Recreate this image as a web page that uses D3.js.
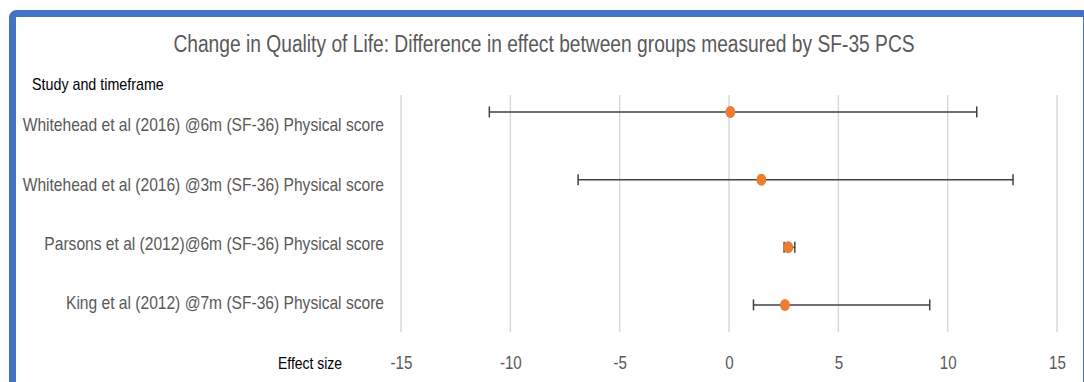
<!DOCTYPE html>
<html>
<head>
<meta charset="utf-8">
<script src="https://cdn.jsdelivr.net/npm/d3@7"></script>
<style>
  html, body { margin: 0; padding: 0; background: #ffffff; }
  svg { display: block; font-family: "Liberation Sans", Arial, sans-serif; }
</style>
</head>
<body>
<svg id="chart" width="1084" height="382"></svg>
<script>
// Studies, top to bottom
const studies = [
  "Whitehead et al (2016) @6m (SF-36) Physical score",
  "Whitehead et al (2016) @3m (SF-36) Physical score",
  "Parsons et al (2012)@6m (SF-36) Physical score",
  "King et al (2012) @7m (SF-36) Physical score"
];
// Difference in effect and its interval
const effect = [0.06, 1.48, 2.71, 2.56];
const lower  = [-10.96, -6.90, 2.52, 1.12];
const upper  = [11.33, 12.99, 3.01, 9.18];
// Vertical value of each point on the hidden y axis (0 to 3.5)
const rowY = [3.25, 2.25, 1.25, 0.4];
// Effect size axis ticks
const xTicks = [-15, -10, -5, 0, 5, 10, 15];

const svg = d3.select("#chart");

// Squeeze text horizontally to a narrower face
function condense(sel, k) {
  sel.each(function () {
    const w = this.getComputedTextLength();
    d3.select(this).attr("textLength", w * k).attr("lengthAdjust", "spacingAndGlyphs");
  });
}

// Chart frame
svg.append("rect")
  .attr("x", 12.5).attr("y", 13.5)
  .attr("width", 1074).attr("height", 420)
  .attr("rx", 4)
  .attr("fill", "#ffffff")
  .attr("stroke", "#4472C4")
  .attr("stroke-width", 7);

const plotTop = 95, plotBottom = 332;
const x = d3.scaleLinear().domain([-15, 15]).range([401, 1057]);
const yBand = d3.scaleBand().domain(studies).range([plotTop, plotBottom]);
const y = d3.scaleLinear().domain([0, 3.5]).range([plotBottom, plotTop]);

// Title
svg.append("text")
  .attr("x", 544).attr("y", 52)
  .attr("text-anchor", "middle")
  .attr("fill", "#595959")
  .attr("font-size", 23)
  .text("Change in Quality of Life: Difference in effect between groups measured by SF-35 PCS")
  .call(condense, 0.835);

// Axis titles
svg.append("text")
  .attr("x", 32).attr("y", 90)
  .attr("fill", "#000000")
  .attr("font-size", 17)
  .text("Study and timeframe")
  .call(condense, 0.84);

svg.append("text")
  .attr("x", 278).attr("y", 369)
  .attr("fill", "#000000")
  .attr("font-size", 17)
  .text("Effect size")
  .call(condense, 0.82);

// Vertical gridlines
svg.append("g")
  .selectAll("line")
  .data(xTicks)
  .join("line")
  .attr("x1", d => x(d)).attr("x2", d => x(d))
  .attr("y1", plotTop).attr("y2", plotBottom)
  .attr("stroke", "#d9d9d9")
  .attr("stroke-width", 1.5);

// X axis tick labels
const xAxis = svg.append("g")
  .attr("transform", `translate(0,${plotBottom})`)
  .call(d3.axisBottom(x).tickValues(xTicks).tickSize(0).tickPadding(0).tickFormat(d => String(d)));
xAxis.select(".domain").remove();
xAxis.selectAll("text")
  .attr("dy", null)
  .attr("y", 37)
  .attr("fill", "#595959")
  .attr("font-size", 18)
  .attr("font-family", "Liberation Sans, Arial, sans-serif")
  .call(condense, 0.84);

// Category labels
const yAxis = svg.append("g")
  .attr("transform", "translate(384,0)")
  .call(d3.axisLeft(yBand).tickSize(0).tickPadding(0));
yAxis.select(".domain").remove();
yAxis.selectAll("text")
  .attr("x", 0)
  .attr("dy", "0.35em")
  .attr("fill", "#595959")
  .attr("font-size", 19)
  .attr("font-family", "Liberation Sans, Arial, sans-serif")
  .call(condense, 0.82);

// Error bars
const rows = studies.map((s, i) => ({ s, v: effect[i], lo: lower[i], hi: upper[i], ry: rowY[i] }));
const bars = svg.append("g").attr("stroke", "#404040").attr("stroke-width", 1.5).attr("fill", "none");
bars.selectAll("line.span")
  .data(rows).join("line").attr("class", "span")
  .attr("x1", d => x(d.lo)).attr("x2", d => x(d.hi))
  .attr("y1", d => y(d.ry)).attr("y2", d => y(d.ry));
bars.selectAll("line.capLo")
  .data(rows).join("line").attr("class", "capLo")
  .attr("x1", d => x(d.lo)).attr("x2", d => x(d.lo))
  .attr("y1", d => y(d.ry) - 5.5).attr("y2", d => y(d.ry) + 5.5);
bars.selectAll("line.capHi")
  .data(rows).join("line").attr("class", "capHi")
  .attr("x1", d => x(d.hi)).attr("x2", d => x(d.hi))
  .attr("y1", d => y(d.ry) - 5.5).attr("y2", d => y(d.ry) + 5.5);

// Points
svg.append("g")
  .selectAll("ellipse")
  .data(rows)
  .join("ellipse")
  .attr("cx", d => x(d.v))
  .attr("cy", d => y(d.ry))
  .attr("rx", 5)
  .attr("ry", 6)
  .attr("fill", "#ED7D31");
</script>
</body>
</html>
